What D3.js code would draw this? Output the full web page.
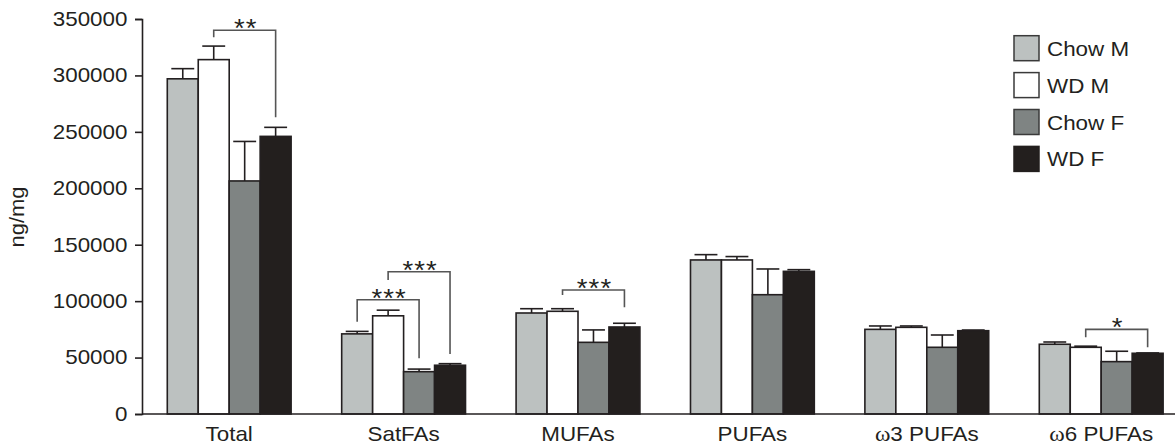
<!DOCTYPE html>
<html>
<head>
<meta charset="utf-8">
<script src="https://cdn.jsdelivr.net/npm/d3@7"></script>
<style>
  html, body { margin: 0; padding: 0; background: #fff; }
  svg { display: block; }
  text { font-family: "Liberation Sans", Arial, Helvetica, sans-serif; fill: #231f20; }
</style>
</head>
<body>
<svg id="chart" width="1175" height="446"></svg>
<script>
// ---------------- data ----------------
const categories = ["Total", "SatFAs", "MUFAs", "PUFAs", "ω3 PUFAs", "ω6 PUFAs"];
const seriesNames = ["Chow M", "WD M", "Chow F", "WD F"];
const seriesColors = ["#bcc1c0", "#ffffff", "#7f8483", "#231f1e"];

const chowM    = [297000, 71000, 89500, 136500, 75000, 61800];
const chowMErr = [9000,   2200,  3800,  4700,   3000,  2000];
const wdM      = [314000, 87000, 91000, 136500, 76800, 59100];
const wdMErr   = [12000,  5000,  2300,  3000,   1200,  1000];
const chowF    = [206500, 37500, 63500, 105700, 59100, 46400];
const chowFErr = [35000,  2300,  11000, 22800,  10900, 9200];
const wdF      = [246000, 43200, 77100, 126400, 73800, 53800];
const wdFErr   = [8000,   1400,  3300,  1500,   600,   300];

const yTicks = [0, 50000, 100000, 150000, 200000, 250000, 300000, 350000];

// significance brackets: value levels in data units
const sigBrackets = [
  { cat: "Total",    from: "WD M",   to: "WD F",   top: 340000, leftEnd: 333800, rightEnd: 262900, label: "**" },
  { cat: "SatFAs",   from: "Chow M", to: "Chow F", top: 101300, leftEnd: 81800,  rightEnd: 49400,  label: "***" },
  { cat: "SatFAs",   from: "WD M",   to: "WD F",   top: 126100, leftEnd: 118700, rightEnd: 53200,  label: "***" },
  { cat: "MUFAs",    from: "WD M",   to: "WD F",   top: 109900, leftEnd: 105400, rightEnd: 94500,  label: "***" },
  { cat: "ω6 PUFAs", from: "WD M",   to: "WD F",   top: 75000,  leftEnd: 68000,  rightEnd: 59100,  label: "*" }
];

const values = [chowM, wdM, chowF, wdF];
const errors = [chowMErr, wdMErr, chowFErr, wdFErr];

// ---------------- layout ----------------
const svg = d3.select("#chart");
const axisX = 142, axisBottom = 414, axisTop = 19;
const SX = 1.12; // horizontal text stretch

const y = d3.scaleLinear().domain([0, 350000]).range([axisBottom, axisTop]);
const x0 = d3.scaleBand().domain(categories).range([axisX, 1188.4]).paddingInner(0.29).paddingOuter(0.145);
const x1 = d3.scaleBand().domain(seriesNames).range([0, x0.bandwidth()]);

const ink = "#231f20";

// bars
const rows = [];
categories.forEach((c, ci) => {
  seriesNames.forEach((s, si) => {
    rows.push({ cat: c, ser: s, si, v: values[si][ci], e: errors[si][ci] });
  });
});

const gBars = svg.append("g");
gBars.selectAll("rect").data(rows).join("rect")
  .attr("x", d => x0(d.cat) + x1(d.ser))
  .attr("y", d => y(d.v))
  .attr("width", x1.bandwidth())
  .attr("height", d => y(0) - y(d.v))
  .attr("fill", d => seriesColors[d.si])
  .attr("stroke", ink)
  .attr("stroke-width", 1.6);

// error bars (upper only)
const capW = x1.bandwidth() * 0.74;
const gErr = svg.append("g").attr("stroke", ink).attr("stroke-width", 1.6);
rows.forEach(d => {
  const cx = x0(d.cat) + x1(d.ser) + x1.bandwidth() / 2;
  gErr.append("line").attr("x1", cx).attr("x2", cx).attr("y1", y(d.v)).attr("y2", y(d.v + d.e));
  gErr.append("line").attr("x1", cx - capW / 2).attr("x2", cx + capW / 2).attr("y1", y(d.v + d.e)).attr("y2", y(d.v + d.e));
});

// axes
const yAxis = d3.axisLeft(y).tickValues(yTicks).tickSize(7).tickPadding(6).tickFormat(d3.format("d"));
const gy = svg.append("g").attr("transform", `translate(${axisX},0)`).call(yAxis);
gy.select(".domain").attr("stroke", ink).attr("stroke-width", 1.6);
gy.selectAll(".tick line").attr("stroke", ink).attr("stroke-width", 1.6);
gy.selectAll(".tick text")
  .attr("font-size", 20)
  .attr("fill", ink)
  .attr("font-family", "Liberation Sans, Arial, sans-serif")
  .attr("transform", `scale(${SX},1)`);

svg.append("line")
  .attr("x1", axisX).attr("x2", 1175)
  .attr("y1", axisBottom).attr("y2", axisBottom)
  .attr("stroke", ink).attr("stroke-width", 1.6);

// category labels (omega drawn in a serif face, as in the reference)
const catText = svg.append("g").selectAll("text").data(categories).join("text")
  .attr("transform", d => `translate(${x0(d) + x0.bandwidth() / 2},441) scale(${SX},1)`)
  .attr("text-anchor", "middle")
  .attr("font-size", 20);
catText.each(function(d) {
  const t = d3.select(this);
  if (d.startsWith("ω")) {
    t.append("tspan").attr("font-family", "Liberation Serif, Times New Roman, serif").attr("font-size", 21).text("ω");
    t.append("tspan").text(d.slice(1));
  } else {
    t.text(d);
  }
});

// y label
svg.append("text")
  .attr("transform", "translate(24,217) rotate(-90) scale(1.1,1)")
  .attr("text-anchor", "middle")
  .attr("font-size", 20)
  .text("ng/mg");

// significance brackets
const gSig = svg.append("g");
sigBrackets.forEach(b => {
  const xa = x0(b.cat) + x1(b.from) + x1.bandwidth() / 2;
  const xb = x0(b.cat) + x1(b.to) + x1.bandwidth() / 2;
  gSig.append("path")
    .attr("d", `M${xa},${y(b.leftEnd)}V${y(b.top)}H${xb}V${y(b.rightEnd)}`)
    .attr("fill", "none")
    .attr("stroke", "#555")
    .attr("stroke-width", 1.6);
  gSig.append("text")
    .attr("transform", `translate(${(xa + xb) / 2 + 1},${y(b.top) + 7}) scale(1.1,1)`)
    .attr("text-anchor", "middle")
    .attr("font-size", 25)
    .attr("letter-spacing", 1)
    .attr("fill", "#2a2a2a")
    .text(b.label);
});

// legend
const legend = svg.append("g");
seriesNames.forEach((s, i) => {
  const top = 35.7 + i * 36.9;
  legend.append("rect")
    .attr("x", 1014).attr("y", top)
    .attr("width", 25).attr("height", 25)
    .attr("fill", seriesColors[i])
    .attr("stroke", i === 3 ? seriesColors[i] : "#3a3a3a")
    .attr("stroke-width", 1.5);
  legend.append("text")
    .attr("transform", `translate(1047,${top + 12.5 + 7.5}) scale(${SX},1)`)
    .attr("font-size", 20)
    .text(s);
});
</script>
</body>
</html>
